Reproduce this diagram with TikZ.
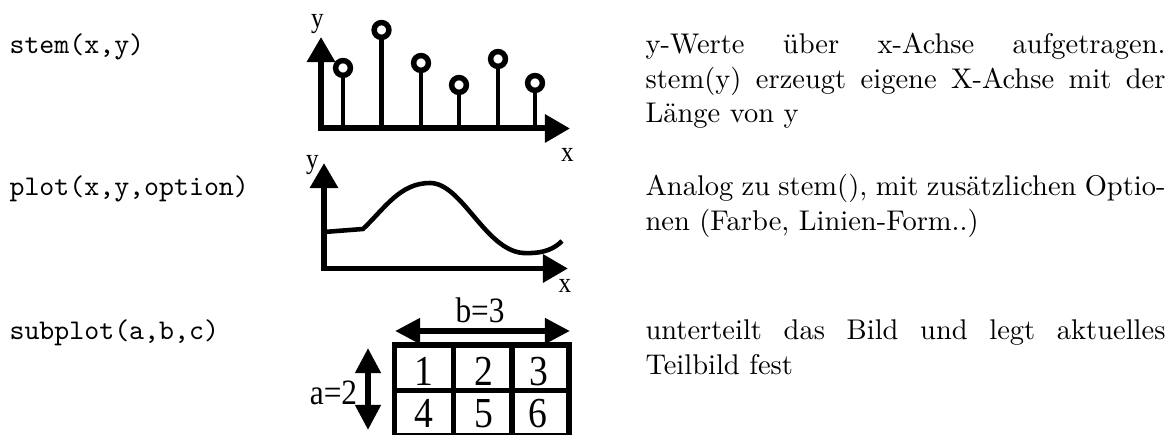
\documentclass[tikz,border=0pt]{standalone}
\usepackage{fontspec}
\newfontfamily\labfont[FakeStretch=0.88]{Liberation Serif}
\usetikzlibrary{arrows.meta}
\tikzset{
  cmd/.style={anchor=base west,inner sep=0pt,font=\ttfamily},
  desc/.style={anchor=base west,inner sep=0pt},
  axlab/.style={anchor=base,inner sep=0pt,font=\labfont\fontsize{10}{11}\selectfont},
  cellnum/.style={anchor=base,inner sep=0pt,font=\labfont\fontsize{15}{16}\selectfont},
  dimlab/.style={anchor=base,inner sep=0pt,font=\labfont\fontsize{12.5}{14}\selectfont},
  axisline/.style={line width=2.1pt,line join=miter,
    {Triangle[length=8.8pt,width=9.5pt]}-{Triangle[length=8.8pt,width=9.5pt]}},
  stemline/.style={line width=1.5pt},
  ring/.style={line width=1.93pt,fill=white},
  curveline/.style={line width=1.6pt,line join=round},
  gridline/.style={line width=1.8pt,line join=miter},
  dimarrow/.style={line width=2.1pt,
    {Triangle[length=8.8pt,width=8.6pt]}-{Triangle[length=8.8pt,width=8.6pt]}},
}
\begin{document}
\begin{tikzpicture}[x=0.351pt,y=-0.351pt]
\useasboundingbox (0,0) rectangle (1176,435);

% left column
\node[cmd] (c1) at (9,54) {stem(x,y)};
\node[cmd] (c2) at (9,196) {plot(x,y,option)};
\node[cmd] (c3) at (9,340) {subplot(a,b,c)};

% right column
\node[desc] (d1) at (645,54) {\parbox[t]{182.5pt}{y-Werte über x-Achse aufgetragen.\linebreak stem(y) erzeugt eigene X-Achse mit der\linebreak Länge von y}};
\node[desc] (d2) at (645,196) {\parbox[t]{182.5pt}{Analog zu stem(), mit zusätzlichen Optio-\linebreak nen (Farbe, Linien-Form..)}};
\node[desc] (d3) at (645,340) {\parbox[t]{182.5pt}{unterteilt das Bild und legt aktuelles\linebreak Teilbild fest}};

% stem diagram
\coordinate (sy) at (321,37);
\coordinate (so) at (321,128.5);
\coordinate (sx) at (570,128.5);
\foreach \xx/\yy in {343/68,381.5/30,421/63,459/85,498/59,535/83}{
  \draw[stemline] (\xx,128.5) -- (\xx,\yy);
}
\draw[axisline] (sy) -- (so) -- (sx);
\foreach \xx/\yy in {343/68,381.5/30,421/63,459/85,498/59,535/83}{
  \draw[ring] (\xx,\yy) circle[radius=7.4];
}
\node[axlab] (syl) at (317.5,28) {y};
\node[axlab] (sxl) at (567.5,162) {x};

% plot diagram
\coordinate (py) at (324,163);
\coordinate (po) at (324,268.5);
\coordinate (px) at (568,268.5);
\draw[curveline] (324,232) -- (363,229)
  .. controls (385,208) and (400,183) .. (430,183)
  .. controls (462,183) and (485,250) .. (523,253)
  .. controls (545,254) and (555,248) .. (562,241);
\draw[axisline] (py) -- (po) -- (px);
\node[axlab] (pyl) at (312.5,169) {y};
\node[axlab] (pxl) at (565,293) {x};

% subplot diagram
\coordinate (bl) at (395,331);
\coordinate (br) at (570,331);
\coordinate (at) at (368,348);
\coordinate (ab) at (368,430);
\draw[dimarrow] (bl) -- (br);
\draw[dimarrow] (at) -- (ab);
\node[dimlab] (blab) at (480,323) {b=3};
\node[dimlab] (alab) at (333.5,405) {a=2};
\draw[gridline] (394.5,345) rectangle (569,436);
\draw[gridline] (394.5,390.5) -- (569,390.5);
\draw[gridline] (453.5,345) -- (453.5,436);
\draw[gridline] (512,345) -- (512,436);
\node[cellnum] (n1) at (424,386) {1};
\node[cellnum] (n2) at (483.5,386) {2};
\node[cellnum] (n3) at (538.5,386) {3};
\node[cellnum] (n4) at (423.5,428) {4};
\node[cellnum] (n5) at (483.5,428) {5};
\node[cellnum] (n6) at (537.5,428) {6};
\end{tikzpicture}
\end{document}
